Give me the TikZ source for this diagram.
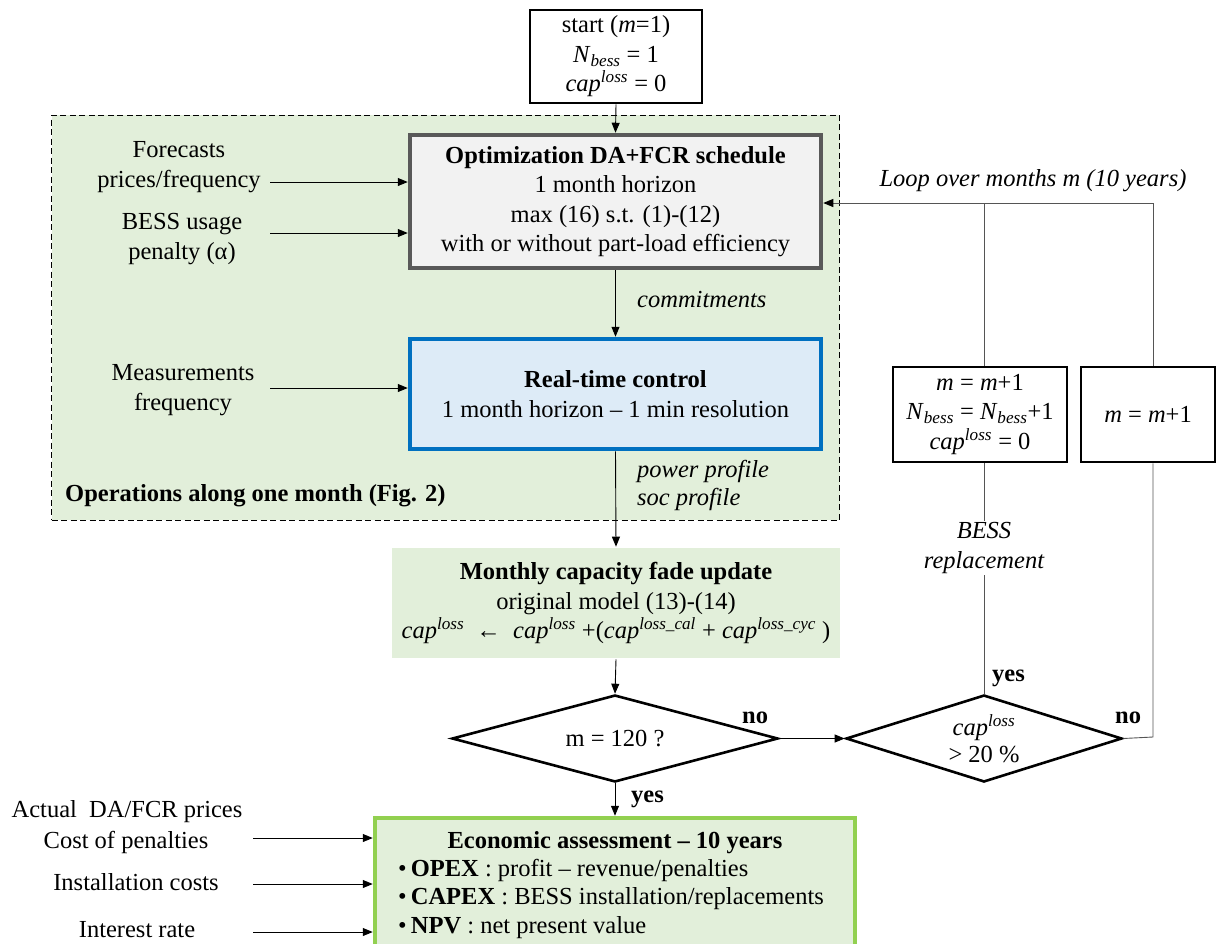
\documentclass[tikz,border=0pt]{standalone}
\usepackage{fontspec}
\setmainfont{Liberation Serif}
\usetikzlibrary{arrows.meta,shapes.geometric}
\definecolor{lgreen}{HTML}{E2EFDA}
\definecolor{lgray}{HTML}{F2F2F2}
\definecolor{dgray}{HTML}{595959}
\definecolor{lblue}{HTML}{DDEBF7}
\definecolor{mblue}{HTML}{0070C0}
\definecolor{ggreen}{HTML}{92D050}
\definecolor{lcol}{HTML}{555555}
\newcommand{\capl}{\textit{cap}\textsuperscript{\textit{loss}}}
\newcommand{\Nb}{\textit{N}\textsubscript{\textit{bess}}}
\begin{document}
\begin{tikzpicture}[x=1pt,y=-1pt,
  font=\fontsize{24.5}{29.5}\selectfont,
  box/.style={draw, line width=2.6pt, fill=white, align=center, inner sep=0pt},
  lab/.style={align=center, inner sep=0pt},
  conn/.style={line width=0.9pt, draw=lcol},
  arr/.style={conn, -{Triangle[length=10pt,width=8pt]}},
  dia/.style={diamond, draw, line width=2.6pt, fill=white, inner sep=0pt, align=center}
]
\useasboundingbox (0,0) rectangle (1216,943);
\clip (0,0) rectangle (1216,943);

% operations region
\node[draw, dash pattern=on 6pt off 3.5pt, line width=0.9pt, fill=lgreen,
      minimum width=788pt, minimum height=405pt, inner sep=0pt] (ops) at (445.5,317.5) {};
\node[lab, anchor=west, font=\fontsize{24.5}{29.5}\selectfont\bfseries] (opslab) at (65,496) {Operations along one month (Fig. 2)};

% main boxes
\node[box, minimum width=172pt, minimum height=93pt] (start) at (616,56.5)
  {start (\textit{m}=1)\\ \Nb{} = 1\\ \capl{} = 0};

\node[box, draw=dgray, line width=4.5pt, fill=lgray, minimum width=411pt, minimum height=133pt] (opt) at (615.5,201.5)
  {\textbf{Optimization DA+FCR schedule}\\1 month horizon\\max (16) s.t. (1)-(12)\\with or without part-load efficiency};

\node[box, draw=mblue, line width=4.5pt, fill=lblue, minimum width=411pt, minimum height=110pt] (rt) at (615.5,394)
  {\textbf{Real-time control}\\1 month horizon -- 1 min resolution};

\node[box, draw=none, fill=lgreen, minimum width=448pt, minimum height=110pt] (fade) at (616,603)
  {\textbf{Monthly capacity fade update}\\original model (13)-(14)\\
   \capl\enspace←\enspace\capl{} +(\textit{cap}\textsuperscript{\textit{loss\_cal}} + \textit{cap}\textsuperscript{\textit{loss\_cyc}} )};

\node[dia, aspect=3.75, minimum width=326pt, minimum height=87pt] (d1) at (615,738.5) {m = 120 ?};
\node[dia, aspect=3.17, minimum width=276pt, minimum height=87pt] (d2) at (984,738.5) {\capl\\[-2pt] > 20 \%};

\node[box, minimum width=174pt, minimum height=95pt] (b1) at (980,414.5)
  {\textit{m} = \textit{m}+1\\ \Nb{} = \Nb+1\\ \capl{} = 0};
\node[box, minimum width=134pt, minimum height=95pt] (b2) at (1148,414.5) {\textit{m} = \textit{m}+1};

\node[box, draw=ggreen, line width=4.5pt, fill=lgreen, minimum width=480pt, minimum height=150pt] (econ) at (615,893) {};
\node[lab, font=\fontsize{24.5}{29.5}\selectfont\bfseries] (econt) at (615,843) {Economic assessment -- 10 years};
\node[lab, anchor=west] (e1) at (398,870) {•\,\textbf{OPEX} : profit -- revenue/penalties};
\node[lab, anchor=west] (e2) at (398,899) {•\,\textbf{CAPEX} : BESS installation/replacements};
\node[lab, anchor=west] (e3) at (398,928) {•\,\textbf{NPV} : net present value};

% input labels
\node[lab] (fc) at (179,167) {Forecasts\\prices/frequency};
\node[lab] (pen) at (182,239) {BESS usage\\penalty (α)};
\node[lab] (meas) at (183,390) {Measurements\\frequency};
\node[lab] (act) at (127,812) {Actual\ \ DA/FCR prices};
\node[lab] (cop) at (126,842) {Cost of penalties};
\node[lab] (inst) at (136,882) {Installation costs};
\node[lab] (intr) at (137,930) {Interest rate};

\coordinate (i1) at (270,182);
\coordinate (i2) at (270,233);
\coordinate (i3) at (270,388);
\coordinate (i4) at (253,838);
\coordinate (i5) at (253,884);
\coordinate (i6) at (253,932);
\draw[arr,draw=black] (i1) -- (i1 -| opt.west);
\draw[arr,draw=black] (i2) -- (i2 -| opt.west);
\draw[arr,draw=black] (i3) -- (i3 -| rt.west);
\draw[arr,draw=black] (i4) -- (i4 -| econ.west);
\draw[arr,draw=black] (i5) -- (i5 -| econ.west);
\draw[arr,draw=black] (i6) -- (i6 -| econ.west);

% main flow
\draw[arr,draw=black] (start.south) -- (opt.north);
\draw[arr,draw=black] (opt.south) -- (rt.north);
\node[lab, anchor=west, font=\fontsize{24.5}{29.5}\selectfont\itshape] (com) at (637,300) {commitments};
\draw[arr,draw=black] (rt.south) -- (fade.north);
\node[lab, anchor=west, font=\fontsize{24.5}{29.5}\selectfont\itshape] (pp) at (637,471) {power profile};
\node[lab, anchor=west, font=\fontsize{24.5}{29.5}\selectfont\itshape] (sp) at (637,499) {soc profile};
\draw[arr,draw=black] (fade.south) -- (d1.north);
\draw[arr,draw=black] (d1.south) -- (econ.north);
\node[lab, anchor=west, font=\fontsize{24.5}{29.5}\selectfont\bfseries] (yes1) at (631,799) {yes};
\draw[arr,draw=black] (d1.east) -- (d2.west);
\node[lab, anchor=west, font=\fontsize{24.5}{29.5}\selectfont\bfseries] (no1) at (742,718) {no};

% loop
\coordinate (lp) at (1153,203);
\coordinate (rc) at (1153,737);
\draw[conn] (d2.north) -- (d2.north |- b1.south);
\node[lab, fill=white, inner ysep=2pt, font=\fontsize{24.5}{29.5}\selectfont\itshape] (repl) at (984,548) {BESS\\replacement};
\node[lab, anchor=west, font=\fontsize{24.5}{29.5}\selectfont\bfseries] (yes2) at (992,678) {yes};
\draw[conn] (d2.east) -- (rc) -- (rc |- b2.south);
\node[lab, anchor=west, font=\fontsize{24.5}{29.5}\selectfont\bfseries] (no2) at (1115,718) {no};
\draw[conn] (d2.north |- b1.north) -- (d2.north |- lp);
\draw[arr, -{Triangle[length=10pt,width=8pt,color=black]}] (lp |- b2.north) -- (lp) -- (lp -| opt.east);
\node[lab, font=\fontsize{24.5}{29.5}\selectfont\itshape] (loop) at (1033,181) {Loop over months m (10 years)};
\end{tikzpicture}
\end{document}
